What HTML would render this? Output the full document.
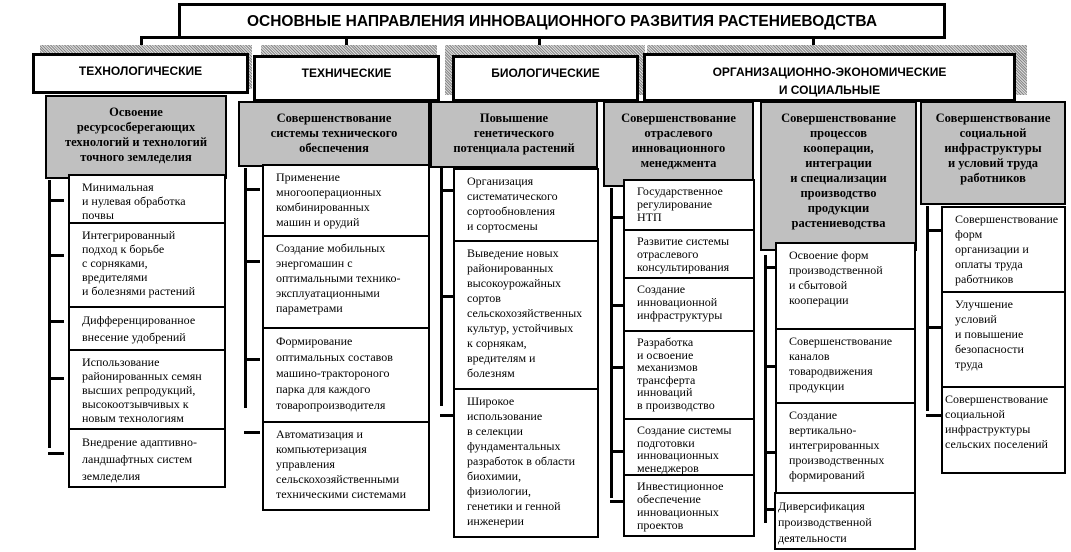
<!DOCTYPE html>
<html><head><meta charset="utf-8"><style>
body{margin:0;background:#fff;}
#c{position:relative;width:1071px;height:552px;overflow:hidden;background:#fff;}
.g{position:absolute;box-sizing:border-box;border:2px solid #000;background:#c0c0c0;font:bold 12.5px/15px "Liberation Serif",serif;text-align:center;padding-top:8px;}
.w{position:absolute;box-sizing:border-box;border:2px solid #000;background:#fff;font:12px/15px "Liberation Serif",serif;padding:4px 2px 0 12px;}
.h{position:absolute;box-sizing:border-box;border:3px solid #000;background:#fff;font:bold 12px/16px "Liberation Sans",sans-serif;text-align:center;padding-top:7px;}
.s{position:absolute;background:repeating-linear-gradient(45deg,#888 0 1px,#ddd 1px 2px);}
.v{position:absolute;background:#000;width:3px;}
.hl{position:absolute;background:#000;height:3px;}
.t{position:absolute;background:#000;height:3px;width:16px;}
</style></head><body><div id="c">
<div class="h" style="left:178px;top:3px;width:768px;height:36px;font-size:15.5px;padding-top:8px">ОСНОВНЫЕ НАПРАВЛЕНИЯ ИННОВАЦИОННОГО РАЗВИТИЯ РАСТЕНИЕВОДСТВА</div>
<div class="v" style="left:140px;top:36px;height:18px"></div>
<div class="hl" style="left:140px;top:36px;width:40px"></div>
<div class="v" style="left:345px;top:38px;height:18px"></div>
<div class="v" style="left:538px;top:38px;height:18px"></div>
<div class="v" style="left:812px;top:38px;height:16px"></div>
<div class="s" style="left:40px;top:45px;width:212px;height:44px"></div>
<div class="s" style="left:261px;top:45px;width:176px;height:50px"></div>
<div class="s" style="left:445px;top:45px;width:200px;height:50px"></div>
<div class="s" style="left:647px;top:45px;width:380px;height:50px"></div>
<div class="h" style="left:32px;top:53px;width:217px;height:41px">ТЕХНОЛОГИЧЕСКИЕ</div>
<div class="h" style="left:253px;top:55px;width:187px;height:47px">ТЕХНИЧЕСКИЕ</div>
<div class="h" style="left:452px;top:55px;width:187px;height:47px">БИОЛОГИЧЕСКИЕ</div>
<div class="h" style="left:643px;top:53px;width:373px;height:49px;line-height:18px">ОРГАНИЗАЦИОННО-ЭКОНОМИЧЕСКИЕ<br>И СОЦИАЛЬНЫЕ</div>

<div class="g" style="left:45px;top:95px;width:182px;height:84px">Освоение<br>ресурсосберегающих<br>технологий и технологий<br>точного земледелия</div>
<div class="g" style="left:238px;top:101px;width:192px;height:66px">Совершенствование<br>системы технического<br>обеспечения</div>
<div class="g" style="left:430px;top:101px;width:168px;height:67px">Повышение<br>генетического<br>потенциала растений</div>
<div class="g" style="left:603px;top:101px;width:151px;height:86px">Совершенствование<br>отраслевого<br>инновационного<br>менеджмента</div>
<div class="g" style="left:760px;top:101px;width:157px;height:150px">Совершенствование<br>процессов<br>кооперации,<br>интеграции<br>и специализации<br>производство<br>продукции<br>растениеводства</div>
<div class="g" style="left:920px;top:101px;width:146px;height:104px">Совершенствование<br>социальной<br>инфраструктуры<br>и условий труда<br>работников</div>

<div class="v" style="left:48px;top:180px;height:268px"></div>
<div class="t" style="left:48px;top:199px"></div><div class="t" style="left:48px;top:254px"></div><div class="t" style="left:48px;top:320px"></div><div class="t" style="left:48px;top:377px"></div><div class="t" style="left:48px;top:452px"></div>
<div class="w" style="left:68px;top:174px;width:158px;height:50px;line-height:14px">Минимальная<br>и нулевая обработка<br>почвы</div>
<div class="w" style="left:68px;top:222px;width:158px;height:86px;line-height:14px">Интегрированный<br>подход к борьбе<br>с сорняками,<br>вредителями<br>и болезнями растений</div>
<div class="w" style="left:68px;top:306px;width:158px;height:45px;line-height:17px">Дифференцированное<br>внесение удобрений</div>
<div class="w" style="left:68px;top:349px;width:158px;height:81px;line-height:14px">Использование<br>районированных семян<br>высших репродукций,<br>высокоотзывчивых к<br>новым технологиям</div>
<div class="w" style="left:68px;top:428px;width:158px;height:60px;line-height:17px">Внедрение адаптивно-<br>ландшафтных систем<br>земледелия</div>

<div class="v" style="left:244px;top:168px;height:240px"></div>
<div class="t" style="left:244px;top:188px"></div><div class="t" style="left:244px;top:260px"></div><div class="t" style="left:244px;top:358px"></div><div class="t" style="left:244px;top:431px"></div>
<div class="w" style="left:262px;top:164px;width:168px;height:73px">Применение<br>многооперационных<br>комбинированных<br>машин и орудий</div>
<div class="w" style="left:262px;top:235px;width:168px;height:94px">Создание мобильных<br>энергомашин с<br>оптимальными технико-<br>эксплуатационными<br>параметрами</div>
<div class="w" style="left:262px;top:327px;width:168px;height:96px;line-height:16px">Формирование<br>оптимальных составов<br>машино-трактороного<br>парка для каждого<br>товаропроизводителя</div>
<div class="w" style="left:262px;top:421px;width:168px;height:90px">Автоматизация и<br>компьютеризация<br>управления<br>сельскохозяйственными<br>техническими системами</div>

<div class="v" style="left:440px;top:168px;height:238px"></div>
<div class="t" style="left:440px;top:189px"></div><div class="t" style="left:440px;top:295px"></div><div class="t" style="left:440px;top:414px"></div>
<div class="w" style="left:453px;top:168px;width:146px;height:74px">Организация<br>систематического<br>сортообновления<br>и сортосмены</div>
<div class="w" style="left:453px;top:240px;width:146px;height:150px">Выведение новых<br>районированных<br>высокоурожайных<br>сортов<br>сельскохозяйственных<br>культур, устойчивых<br>к сорнякам,<br>вредителям и<br>болезням</div>
<div class="w" style="left:453px;top:388px;width:146px;height:150px">Широкое<br>использование<br>в селекции<br>фундаментальных<br>разработок в области<br>биохимии,<br>физиологии,<br>генетики и генной<br>инженерии</div>

<div class="v" style="left:610px;top:188px;height:310px"></div>
<div class="t" style="left:610px;top:216px"></div><div class="t" style="left:610px;top:304px"></div><div class="t" style="left:610px;top:366px"></div><div class="t" style="left:610px;top:450px"></div><div class="t" style="left:610px;top:500px"></div>
<div class="w" style="left:623px;top:179px;width:132px;height:52px;line-height:13px">Государственное<br>регулирование<br>НТП</div>
<div class="w" style="left:623px;top:229px;width:132px;height:50px;line-height:13px">Развитие системы<br>отраслевого<br>консультирования</div>
<div class="w" style="left:623px;top:277px;width:132px;height:55px;line-height:13px">Создание<br>инновационной<br>инфраструктуры</div>
<div class="w" style="left:623px;top:330px;width:132px;height:90px;line-height:12.5px">Разработка<br>и освоение<br>механизмов<br>трансферта<br>инноваций<br>в производство</div>
<div class="w" style="left:623px;top:418px;width:132px;height:58px;line-height:12.5px">Создание системы<br>подготовки<br>инновационных<br>менеджеров</div>
<div class="w" style="left:623px;top:474px;width:132px;height:63px;line-height:13px">Инвестиционное<br>обеспечение<br>инновационных<br>проектов</div>

<div class="v" style="left:764px;top:255px;height:268px"></div>
<div class="t" style="left:764px;top:266px;width:11px"></div><div class="t" style="left:764px;top:365px;width:11px"></div><div class="t" style="left:764px;top:451px;width:11px"></div><div class="t" style="left:764px;top:508px;width:11px"></div>
<div class="w" style="left:775px;top:242px;width:141px;height:88px">Освоение форм<br>производственной<br>и сбытовой<br>кооперации</div>
<div class="w" style="left:775px;top:328px;width:141px;height:76px">Совершенствование<br>каналов<br>товародвижения<br>продукции</div>
<div class="w" style="left:775px;top:402px;width:141px;height:92px">Создание<br>вертикально-<br>интегрированных<br>производственных<br>формирований</div>
<div class="w" style="left:774px;top:492px;width:142px;height:58px;padding-left:2px;line-height:16px">Диверсификация<br>производственной<br>деятельности</div>

<div class="v" style="left:926px;top:206px;height:205px"></div>
<div class="t" style="left:926px;top:229px"></div><div class="t" style="left:926px;top:326px"></div><div class="t" style="left:926px;top:414px"></div>
<div class="w" style="left:941px;top:206px;width:125px;height:87px">Совершенствование<br>форм<br>организации и<br>оплаты труда<br>работников</div>
<div class="w" style="left:941px;top:291px;width:125px;height:97px">Улучшение<br>условий<br>и повышение<br>безопасности<br>труда</div>
<div class="w" style="left:941px;top:386px;width:125px;height:88px;padding-left:2px">Совершенствование<br>социальной<br>инфраструктуры<br>сельских поселений</div>
</div></body></html>
